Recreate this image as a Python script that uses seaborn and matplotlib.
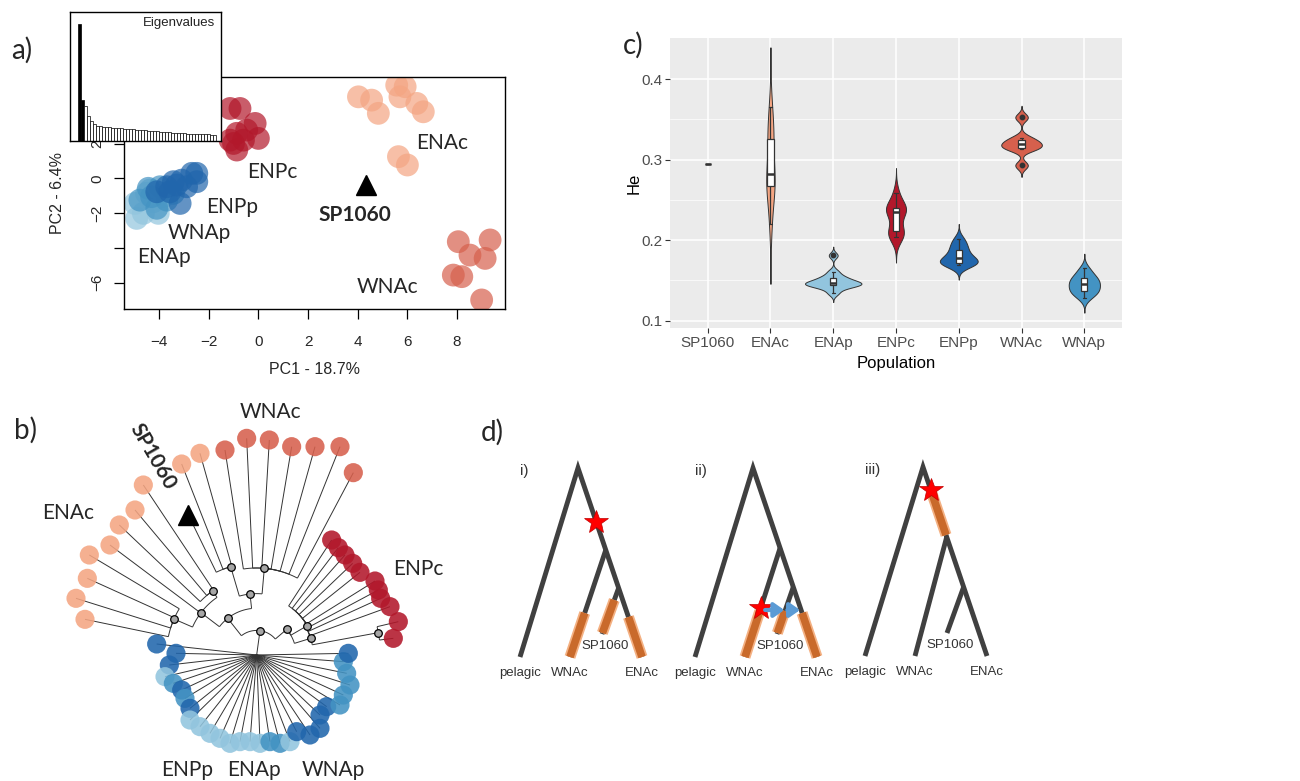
import numpy as np
import pandas as pd
import matplotlib
matplotlib.use("Agg")
import matplotlib.pyplot as plt
import matplotlib.patheffects as pe
import seaborn as sns

W, H = 1300, 781

POP_COLORS = {"ENAc": "#F4A582", "ENAp": "#92C5DE", "ENPc": "#B2182B",
              "ENPp": "#2166AC", "WNAc": "#D6604D", "WNAp": "#4393C3"}

# --- a) PCA scores ---
PCA_ENAP_X = [-4.90, -4.97, -4.50, -4.23, -4.03, -4.63, -4.36, -3.83]
PCA_ENAP_Y = [-2.30, -1.44, -0.86, -1.34, -2.01, -2.01, -0.67, -1.05]
PCA_WNAP_X = [-4.77, -4.43, -4.09, -3.69, -3.96, -3.42, -4.30]
PCA_WNAP_Y = [-1.25, -0.57, -1.72, -1.25, -0.48, -0.86, -1.05]
PCA_ENPP_X = [-4.09, -3.69, -3.42, -3.09, -2.68, -2.48, -2.89, -3.15, -3.56, -3.29, -2.48]
PCA_ENPP_Y = [-0.77, -0.48, -0.19, -0.10, 0.29, -0.19, -0.48, -1.44, -0.77, -0.38, 0.29]
PCA_ENPC_X = [-1.14, -0.74, -0.13, 0.0, -0.87, -1.0, -0.6, -0.87, -1.14, -0.47]
PCA_ENPC_Y = [4.02, 4.02, 3.16, 2.30, 2.59, 2.01, 2.20, 1.63, 2.20, 2.78]
PCA_ENAC_X = [4.03, 4.56, 4.83, 5.57, 5.91, 5.70, 6.38, 6.64, 5.64, 6.00]
PCA_ENAC_Y = [4.69, 4.50, 3.74, 5.36, 5.27, 4.69, 4.31, 3.83, 1.25, 0.77]
PCA_WNAC_X = [8.05, 9.33, 8.52, 9.13, 7.85, 8.19, 8.99]
PCA_WNAC_Y = [-3.64, -3.54, -4.41, -4.60, -5.56, -5.65, -6.99]
PCA_SP_X, PCA_SP_Y = [4.32], [-0.38]
PCA_LABELS = ["ENAc", "ENPc", "ENPp", "WNAp", "ENAp", "WNAc"]
PCA_LABEL_X = [7.38, 0.58, -1.05, -2.38, -3.80, 5.21]
PCA_LABEL_Y = [2.05, 0.38, -1.63, -3.16, -4.50, -6.23]
EIGEN = [0.91, 0.32, 0.27, 0.19, 0.155, 0.13, 0.118, 0.114, 0.111, 0.108,
         0.106, 0.104, 0.102, 0.100, 0.098, 0.096, 0.094, 0.092, 0.090, 0.088,
         0.086, 0.084, 0.082, 0.080, 0.078, 0.076, 0.074, 0.072, 0.070, 0.068,
         0.066, 0.065, 0.063, 0.062, 0.060, 0.059, 0.058, 0.057, 0.056, 0.055,
         0.054, 0.053, 0.052, 0.051, 0.050, 0.049]

# --- b) tree (units relative to the tree centre) ---
NODE_X = [0, 10, 90, 152, 162, 365, -87, -167, -248, -132, -20, 23, -78]
NODE_Y = [0, 73, 77, 88, 50, 67, 110, 127, 108, 192, 183, 260, 265]
NODE_PARENT = [-1, 0, 1, 2, 2, 4, 1, 6, 7, 7, 6, 10, 10]
B_ENAC_X = [-170, -225, -340, -365, -412, -440, -502, -508, -542, -515]
B_ENAC_Y = [605, 573, 510, 435, 390, 330, 300, 230, 170, 107]
B_ENAC_PARENT = [12, 12, 9, 9, 9, 7, 8, 8, 8, 8]
B_WNAC_X = [-95, -30, 38, 105, 175, 250, 290]
B_WNAC_Y = [615, 650, 645, 625, 625, 625, 547]
B_WNAC_PARENT = [11, 11, 11, 11, 11, 11, 11]
B_ENPC_X = [225, 245, 265, 288, 310, 355, 365, 372, 400, 425, 410]
B_ENPC_Y = [345, 322, 300, 275, 248, 222, 195, 170, 145, 100, 50]
B_ENPC_PARENT = [3, 3, 3, 3, 3, 4, 4, 4, 4, 5, 5]
B_BLUE_X = [-300, -242, -262, -275, -250, -225, -215, -200, -200, -170, -140, -110,
            -80, -50, -20, 10, 40, 70, 100, 120, 160, 190, 190, 210, 250, 260,
            280, 270, 260, 275]
B_BLUE_Y = [33, 5, -30, -65, -85, -105, -130, -160, -195, -215, -235, -250,
            -265, -260, -260, -265, -260, -265, -260, -230, -240, -220, -180, -155,
            -150, -120, -90, -55, -20, 5]
B_BLUE_POP = ["ENPp", "ENPp", "ENPp", "ENAp", "WNAp", "ENPp", "WNAp", "ENPp", "ENAp",
              "ENAp", "ENAp", "ENAp", "ENAp", "ENAp", "ENAp", "ENAp", "WNAp", "WNAp",
              "ENAp", "ENPp", "ENPp", "ENPp", "ENPp", "ENPp", "WNAp", "WNAp", "WNAp",
              "WNAp", "WNAp", "ENPp"]
B_SP_X, B_SP_Y, B_SP_PARENT = -205, 420, 12
B_LABELS = ["WNAc", "ENAc", "ENPc", "ENPp", "ENAp", "WNAp"]
B_LABEL_X = [40, -566, 484, -209, -8, 229]
B_LABEL_Y = [729, 426, 258, -345, -345, -345]

# --- c) expected heterozygosity ---
POP_ORDER = ["SP1060", "ENAc", "ENAp", "ENPc", "ENPp", "WNAc", "WNAp"]
HE_SP1060 = [0.295]
HE_ENAC = [0.22, 0.255, 0.266, 0.272, 0.278, 0.285, 0.32, 0.328, 0.34, 0.365]
HE_ENAP = [0.134, 0.140, 0.143, 0.144, 0.145, 0.146, 0.147, 0.148, 0.150, 0.153,
           0.155, 0.161, 0.181]
HE_ENPC = [0.2035, 0.207, 0.210, 0.213, 0.233, 0.236, 0.238, 0.240, 0.243, 0.258]
HE_ENPP = [0.169, 0.170, 0.171, 0.172, 0.174, 0.176, 0.179, 0.182, 0.187, 0.191, 0.196, 0.202]
HE_WNAC = [0.2928, 0.313, 0.315, 0.319, 0.322, 0.327, 0.3524]
HE_WNAP = [0.128, 0.133, 0.136, 0.137, 0.141, 0.144, 0.146, 0.149, 0.152, 0.154, 0.159, 0.165]

# --- d) scenario trees (local units, tips at height 0) ---
D_APEX = (58, 189)
D_PELAGIC = (0, 0)
D_WNAC = (50, 0)
D_ENAC = (122, 0)
D_SP = (82, 23)
D_NODE2_H = [107, 109, 119]
D_NODE3_H = [69, 70, 69]
D_ORANGE = [[("wnac", 44, 0), ("sp", 57, 24), ("main", 40, 0)],
            [("wnac", 46, 0), ("sp", 46, 24), ("main", 44, 0)],
            [("main", 164, 121)]]
D_STAR = [("main", 135), ("wnac", 49), ("main", 166)]
D_ARROW_H = [None, 47, None]
D_NUMERALS = ["i)", "ii)", "iii)"]
D_ORIGIN_PX = [(520, 657), (695, 657), (865, 656)]


def px_rect(left, top, right, bottom):
    return [left / W, 1 - bottom / H, (right - left) / W, (bottom - top) / H]


def nrd0(kde):
    # R's default bandwidth (bw.nrd0), as a factor of the sample sd
    x = kde.dataset[0]
    sd = x.std(ddof=1)
    q75, q25 = np.percentile(x, [75, 25])
    h = 0.9 * min(sd, (q75 - q25) / 1.34) * len(x) ** -0.2
    return h / sd


sns.set_theme(style="white")
plt.rcParams["font.family"] = ["Lato", "DejaVu Sans"]
ARIAL = ["Liberation Sans", "DejaVu Sans"]

fig = plt.figure(figsize=(W / 100, H / 100), dpi=100)
fig.patch.set_facecolor("white")

# ================= a) PCA =================
ax_a = fig.add_axes(px_rect(124, 77, 505, 309))
pca_df = pd.concat([
    pd.DataFrame({"PC1": PCA_ENAP_X, "PC2": PCA_ENAP_Y, "pop": "ENAp"}),
    pd.DataFrame({"PC1": PCA_WNAP_X, "PC2": PCA_WNAP_Y, "pop": "WNAp"}),
    pd.DataFrame({"PC1": PCA_ENPP_X, "PC2": PCA_ENPP_Y, "pop": "ENPp"}),
    pd.DataFrame({"PC1": PCA_ENPC_X, "PC2": PCA_ENPC_Y, "pop": "ENPc"}),
    pd.DataFrame({"PC1": PCA_ENAC_X, "PC2": PCA_ENAC_Y, "pop": "ENAc"}),
    pd.DataFrame({"PC1": PCA_WNAC_X, "PC2": PCA_WNAC_Y, "pop": "WNAc"}),
], ignore_index=True)
sns.scatterplot(data=pca_df, x="PC1", y="PC2", hue="pop", palette=POP_COLORS,
                s=270, alpha=0.7, linewidth=0, legend=False, ax=ax_a)
ax_a.plot(PCA_SP_X, PCA_SP_Y, ls="none", marker="^", ms=15, color="black")
for lab, lx, ly in zip(PCA_LABELS, PCA_LABEL_X, PCA_LABEL_Y):
    ax_a.text(lx, ly, lab, fontsize=15, ha="center", va="center")
ax_a.text(PCA_SP_X[0] - 0.43, PCA_SP_Y[0] - 1.73, "SP1060", fontsize=15,
          fontweight="bold", ha="center", va="center")
ax_a.set_xlim(-5.41, 9.93)
ax_a.set_ylim(-7.51, 5.83)
ax_a.set_xticks([-4, -2, 0, 2, 4, 6, 8])
ax_a.set_xticklabels(["\u22124", "\u22122", "0", "2", "4", "6", "8"], family=ARIAL)
ax_a.set_yticks([-6, -4, -2, 0, 2])
ax_a.set_yticklabels(["\u22126", "", "\u22122", "0", "2"], family=ARIAL,
                     rotation=90, va="center")
ax_a.tick_params(direction="out", length=7, width=0.9, labelsize=11, color="black",
                 left=True, bottom=True)
ax_a.tick_params(axis="x", pad=12)
ax_a.tick_params(axis="y", pad=7)
ax_a.set_xlabel("PC1 - 18.7%", family=ARIAL, fontsize=11.5)
ax_a.set_ylabel("PC2 - 6.4%", family=ARIAL, fontsize=11.5)
ax_a.xaxis.set_label_coords(0.5, -0.23)
ax_a.yaxis.set_label_coords(-0.155, 0.5)
for s in ax_a.spines.values():
    s.set_color("black")
    s.set_linewidth(1.0)

ax_in = fig.add_axes(px_rect(70, 12, 221, 141))
ax_in.set_zorder(5)
ax_in.set_facecolor("white")
ax_in.bar(np.arange(len(EIGEN)), EIGEN, width=1, align="edge",
          color=["black" if i < 2 else "white" for i in range(len(EIGEN))],
          edgecolor="black", linewidth=0.5)
ax_in.set_xlim(-2.6, 47.7)
ax_in.set_ylim(0, 1)
ax_in.set_xticks([])
ax_in.set_yticks([])
for s in ax_in.spines.values():
    s.set_color("black")
    s.set_linewidth(1.0)
ax_in.text(0.96, 0.96, "Eigenvalues", transform=ax_in.transAxes, ha="right",
           va="top", fontsize=9.5, family=ARIAL, color="#222222")

# ================= b) tree =================
ax_b = fig.add_axes(px_rect(0, 390, 470, 781))
ax_b.set_xlim(-770, 640)
ax_b.set_ylim(-378, 795)
ax_b.axis("off")


def draw_edge(ax, cx, cy, px_, py_):
    rc, tc = np.hypot(cx, cy), np.arctan2(cy, cx)
    rp, tp = np.hypot(px_, py_), np.arctan2(py_, px_)
    kw = dict(color="#333333", lw=0.7, zorder=1, solid_capstyle="butt")
    ax.plot([rc * np.cos(tc), rp * np.cos(tc)], [rc * np.sin(tc), rp * np.sin(tc)], **kw)
    ts = np.linspace(tc, tp, 30)
    ax.plot(rp * np.cos(ts), rp * np.sin(ts), **kw)


for i in range(1, len(NODE_X)):
    p = NODE_PARENT[i]
    draw_edge(ax_b, NODE_X[i], NODE_Y[i], NODE_X[p], NODE_Y[p])
for xs, ys, ps in [(B_ENAC_X, B_ENAC_Y, B_ENAC_PARENT), (B_WNAC_X, B_WNAC_Y, B_WNAC_PARENT),
                   (B_ENPC_X, B_ENPC_Y, B_ENPC_PARENT)]:
    for x, y, p in zip(xs, ys, ps):
        draw_edge(ax_b, x, y, NODE_X[p], NODE_Y[p])
for x, y in zip(B_BLUE_X, B_BLUE_Y):
    draw_edge(ax_b, x, y, NODE_X[0], NODE_Y[0])
draw_edge(ax_b, B_SP_X, B_SP_Y, NODE_X[B_SP_PARENT], NODE_Y[B_SP_PARENT])

ax_b.scatter(NODE_X[1:], NODE_Y[1:], s=30, facecolor="#A6A6A6", edgecolor="black",
             linewidth=0.9, zorder=2)
tip_df = pd.concat([
    pd.DataFrame({"x": B_BLUE_X, "y": B_BLUE_Y, "pop": B_BLUE_POP}),
    pd.DataFrame({"x": B_ENAC_X, "y": B_ENAC_Y, "pop": "ENAc"}),
    pd.DataFrame({"x": B_WNAC_X, "y": B_WNAC_Y, "pop": "WNAc"}),
    pd.DataFrame({"x": B_ENPC_X, "y": B_ENPC_Y, "pop": "ENPc"}),
], ignore_index=True)
sns.scatterplot(data=tip_df, x="x", y="y", hue="pop", palette=POP_COLORS, s=190,
                alpha=0.88, linewidth=0, legend=False, zorder=3, ax=ax_b)
ax_b.plot([B_SP_X], [B_SP_Y], ls="none", marker="^", ms=15, color="black", zorder=4)
for lab, lx, ly in zip(B_LABELS, B_LABEL_X, B_LABEL_Y):
    ax_b.text(lx, ly, lab, fontsize=15, ha="center", va="center")
ax_b.text(-311, 594, "SP1060", fontsize=15, fontweight="bold", rotation=-60,
          ha="center", va="center")
ax_b.set_xlabel("")
ax_b.set_ylabel("")

# ================= c) violins =================
ax_c = fig.add_axes(px_rect(670, 38, 1122, 328))
he_df = pd.concat([
    pd.DataFrame({"Population": pop, "He": vals}) for pop, vals in zip(
        POP_ORDER, [HE_SP1060, HE_ENAC, HE_ENAP, HE_ENPC, HE_ENPP, HE_WNAC, HE_WNAP])
], ignore_index=True)
vio_df = he_df[he_df["Population"] != "SP1060"]
sns.violinplot(data=vio_df, x="Population", y="He", hue="Population", order=POP_ORDER,
               hue_order=POP_ORDER[1:], palette=POP_COLORS, inner=None, cut=3,
               bw_method=nrd0, width=0.9, density_norm="area", common_norm=True,
               saturation=1, linewidth=0.7, linecolor="#333333", legend=False, ax=ax_c)
sns.boxplot(data=he_df, x="Population", y="He", order=POP_ORDER, width=0.1,
            color="white", saturation=1, linecolor="#333333", linewidth=0.9,
            fliersize=3.2,
            flierprops=dict(marker="o", markerfacecolor="#333333",
                            markeredgecolor="#333333"),
            medianprops=dict(linewidth=1.8),
            ax=ax_c)
ax_c.set_facecolor("#EBEBEB")
for s in ax_c.spines.values():
    s.set_visible(False)
ax_c.set_xlim(-0.6, 6.6)
ax_c.set_ylim(0.0909, 0.4509)
ax_c.set_yticks([0.1, 0.2, 0.3, 0.4])
ax_c.set_yticklabels(["0.1", "0.2", "0.3", "0.4"], family=ARIAL)
ax_c.set_yticks([0.15, 0.25, 0.35], minor=True)
ax_c.set_xticks(range(len(POP_ORDER)))
ax_c.set_xticklabels(POP_ORDER, family=ARIAL)
ax_c.set_axisbelow(True)
ax_c.grid(True, which="major", color="white", linewidth=1.1)
ax_c.grid(True, which="minor", axis="y", color="white", linewidth=0.5)
ax_c.tick_params(which="major", direction="out", length=3.5, width=0.8,
                 color="#333333", labelcolor="#4D4D4D", labelsize=11, pad=2,
                 left=True, bottom=True)
ax_c.tick_params(which="minor", length=0)
ax_c.set_xlabel("Population", family=ARIAL, fontsize=12, color="black")
ax_c.set_ylabel("He", family=ARIAL, fontsize=12, color="black")
ax_c.xaxis.set_label_coords(0.5, -0.095)
ax_c.yaxis.set_label_coords(-0.062, 0.5)

# ================= d) scenarios =================


def main_x(h):
    return D_ENAC[0] + (D_APEX[0] - D_ENAC[0]) * h / D_APEX[1]


for k, (ox, oy) in enumerate(D_ORIGIN_PX):
    ax = fig.add_axes(px_rect(ox - 40, oy - 200, ox + 150, oy + 25))
    ax.set_xlim(-40, 150)
    ax.set_ylim(-25, 200)
    ax.axis("off")
    h2, h3 = D_NODE2_H[k], D_NODE3_H[k]
    x2, x3 = main_x(h2), main_x(h3)

    def branch_x(br, h):
        if br == "main":
            return main_x(h)
        if br == "wnac":
            return D_WNAC[0] + (x2 - D_WNAC[0]) * h / h2
        return D_SP[0] + (x3 - D_SP[0]) * (h - D_SP[1]) / (h3 - D_SP[1])

    kw = dict(color="#404040", lw=3.5, solid_capstyle="butt", solid_joinstyle="miter")
    ax.plot([D_PELAGIC[0], D_APEX[0], D_ENAC[0]], [D_PELAGIC[1], D_APEX[1], D_ENAC[1]], **kw)
    ax.plot([x2, D_WNAC[0]], [h2, D_WNAC[1]], **kw)
    ax.plot([x3, D_SP[0]], [h3, D_SP[1]], **kw)
    for br, h_top, h_bot in D_ORANGE[k]:
        ax.plot([branch_x(br, h_top), branch_x(br, h_bot)], [h_top, h_bot],
                color="#C96A2B", lw=5.5, solid_capstyle="butt", zorder=3,
                path_effects=[pe.Stroke(linewidth=8, foreground="#F4B183"), pe.Normal()])
    if D_ARROW_H[k] is not None:
        ha_ = D_ARROW_H[k]
        pts = [branch_x("wnac", ha_) + 5, branch_x("sp", ha_) - 1,
               branch_x("sp", ha_) + 2, branch_x("main", ha_) - 1]
        for x0, x1 in [(pts[0], pts[1]), (pts[2], pts[3])]:
            ax.annotate("", xy=(x1, ha_), xytext=(x0, ha_), zorder=6,
                        arrowprops=dict(arrowstyle="-|>,head_length=0.5,head_width=0.35",
                                        color="#5B9BD5", lw=3, shrinkA=0, shrinkB=0))
    sbr, sh = D_STAR[k]
    ax.plot([branch_x(sbr, sh)], [sh], ls="none", marker="*", ms=18, color="#FF0000",
            mec="#C00000", mew=0.5, zorder=5)
    tkw = dict(family=ARIAL, fontsize=9.5, color="#333333", ha="center", va="center")
    ax.text(D_PELAGIC[0], -16, "pelagic", **tkw)
    ax.text(D_WNAC[0], -16, "WNAc", **tkw)
    ax.text(D_ENAC[0], -16, "ENAc", **tkw)
    ax.text(D_SP[0] + 3, D_SP[1] - 12, "SP1060", **tkw)
    ax.text(0, 186, D_NUMERALS[k], family=ARIAL, fontsize=11, color="#333333",
            ha="left", va="center")

# panel letters
for lab, (lx, ly) in zip(["a)", "b)", "c)", "d)"],
                         [(22, 50), (25, 430), (633, 45), (492, 432)]):
    fig.text(lx / W, 1 - ly / H, lab, fontsize=20, ha="center", va="center")

fig.savefig("out.png", dpi=100)
